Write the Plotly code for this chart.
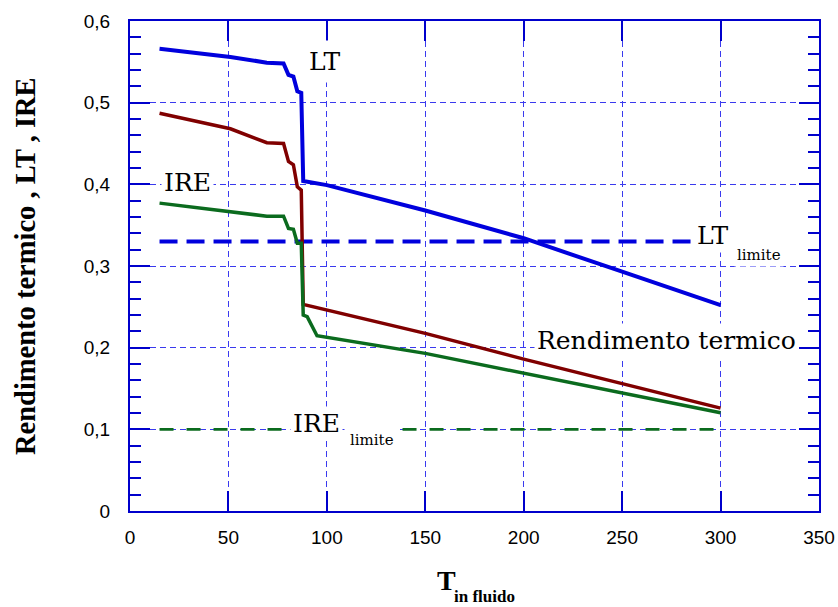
import plotly.graph_objects as go

# ---- data ----
LT_X = [15, 51, 69.5, 78, 80.5, 83, 85, 87, 88, 100, 150, 200, 250, 300]
LT_Y = [0.566, 0.556, 0.549, 0.548, 0.534, 0.532, 0.514, 0.512, 0.404, 0.399, 0.368, 0.334, 0.293, 0.252]

REND_X = [15, 51, 69.5, 78, 80.5, 83, 85, 87, 88, 100, 150, 200, 250, 300]
REND_Y = [0.487, 0.468, 0.451, 0.450, 0.428, 0.424, 0.397, 0.393, 0.253, 0.246, 0.2175, 0.186, 0.156, 0.126]

IRE_X = [15, 51, 69.5, 78, 80.5, 83, 85, 87, 88, 90, 95, 150, 200, 250, 300]
IRE_Y = [0.377, 0.367, 0.361, 0.361, 0.346, 0.345, 0.328, 0.328, 0.240, 0.238, 0.2146, 0.193, 0.1685, 0.1448, 0.1203]

LT_LIMIT_X = [15, 300]
LT_LIMIT_Y = [0.33, 0.33]
IRE_LIMIT_X = [15, 300]
IRE_LIMIT_Y = [0.1, 0.1]

X_TICKS = [0, 50, 100, 150, 200, 250, 300, 350]
X_TICK_LABELS = ["0", "50", "100", "150", "200", "250", "300", "350"]
Y_TICKS = [0, 0.1, 0.2, 0.3, 0.4, 0.5, 0.6]
Y_TICK_LABELS = ["0", "0,1", "0,2", "0,3", "0,4", "0,5", "0,6"]

BLUE = "#0000dd"
RED = "#800000"
GREEN = "#0b6b1e"
GRID = "#3a3aee"
AXIS = "#0000cc"
SERIF = "DejaVu Serif"
TITLE_SERIF = "Liberation Serif"
SANS = "Liberation Sans"

fig = go.Figure()
fig.add_trace(go.Scatter(x=LT_LIMIT_X, y=LT_LIMIT_Y, mode="lines",
                         line=dict(color=BLUE, width=4, dash="18px,9px"), showlegend=False))
fig.add_trace(go.Scatter(x=IRE_LIMIT_X, y=IRE_LIMIT_Y, mode="lines",
                         line=dict(color=GREEN, width=2.7, dash="14px,13px"), showlegend=False))
fig.add_trace(go.Scatter(x=LT_X, y=LT_Y, mode="lines",
                         line=dict(color=BLUE, width=4), showlegend=False))
fig.add_trace(go.Scatter(x=REND_X, y=REND_Y, mode="lines",
                         line=dict(color=RED, width=3.5), showlegend=False))
fig.add_trace(go.Scatter(x=IRE_X, y=IRE_Y, mode="lines",
                         line=dict(color=GREEN, width=3.5), showlegend=False))

def label(text, x, y, size, xanchor="center", pad=2):
    fig.add_annotation(x=x, y=y, xref="x", yref="y", text=text, showarrow=False,
                       xanchor=xanchor, yanchor="middle",
                       font=dict(family=SERIF, size=size, color="black"),
                       bgcolor="white", borderpad=pad)

label("LT", 99, 0.551, 25, pad=6)
label("IRE", 29, 0.4027, 25)
label("LT", 296.2, 0.3368, 25)
label("limite", 319.5, 0.3133, 15)
label("Rendimento termico", 272.5, 0.2083, 25)
label("IRE", 94.9, 0.1067, 25)
label("limite", 122.7, 0.0869, 15, pad=5)

# axis titles
fig.add_annotation(x=0, y=0.5, xref="paper", yref="paper", xanchor="center", yanchor="middle",
                   xshift=-105, textangle=-90, showarrow=False,
                   text="<b>Rendimento termico , LT , IRE</b>",
                   font=dict(family=TITLE_SERIF, size=28.5, color="black"))
fig.add_annotation(x=160.7, y=0, xref="x", yref="paper", xanchor="center", yanchor="middle",
                   yshift=-69, showarrow=False, text="<b>T</b>",
                   font=dict(family=TITLE_SERIF, size=28, color="black"))
fig.add_annotation(x=180.3, y=0, xref="x", yref="paper", xanchor="center", yanchor="middle",
                   yshift=-85, showarrow=False, text="<b>in fluido</b>",
                   font=dict(family=TITLE_SERIF, size=17, color="black"))

fig.update_xaxes(range=[0, 350], tickvals=X_TICKS, ticktext=X_TICK_LABELS,
                 showline=True, linecolor=AXIS, linewidth=2, mirror="ticks",
                 ticks="inside", ticklen=20, tickcolor=AXIS, tickwidth=1.5,
                 showgrid=True, gridcolor=GRID, gridwidth=1, griddash="6px,4px",
                 zeroline=False, ticklabelstandoff=8, automargin=False,
                 tickfont=dict(family=SANS, size=19, color="black"))
fig.update_yaxes(range=[0, 0.6], tickvals=Y_TICKS, ticktext=Y_TICK_LABELS,
                 showline=True, linecolor=AXIS, linewidth=2, mirror="ticks",
                 ticks="inside", ticklen=20, tickcolor=AXIS, tickwidth=1.5,
                 minor=dict(dtick=0.02, ticks="inside", ticklen=11, tickcolor=AXIS,
                            tickwidth=1.5, showgrid=False),
                 showgrid=True, gridcolor=GRID, gridwidth=1, griddash="6px,4px",
                 zeroline=False, ticklabelstandoff=14, automargin=False,
                 tickfont=dict(family=SANS, size=19, color="black"))

fig.update_layout(width=838, height=607, paper_bgcolor="white", plot_bgcolor="white",
                  margin=dict(l=130, r=18.5, t=21, b=96), showlegend=False)

fig.write_html("out.html", config={"displayModeBar": False},
               post_script="document.body.style.margin='0';document.body.style.overflow='hidden';")
